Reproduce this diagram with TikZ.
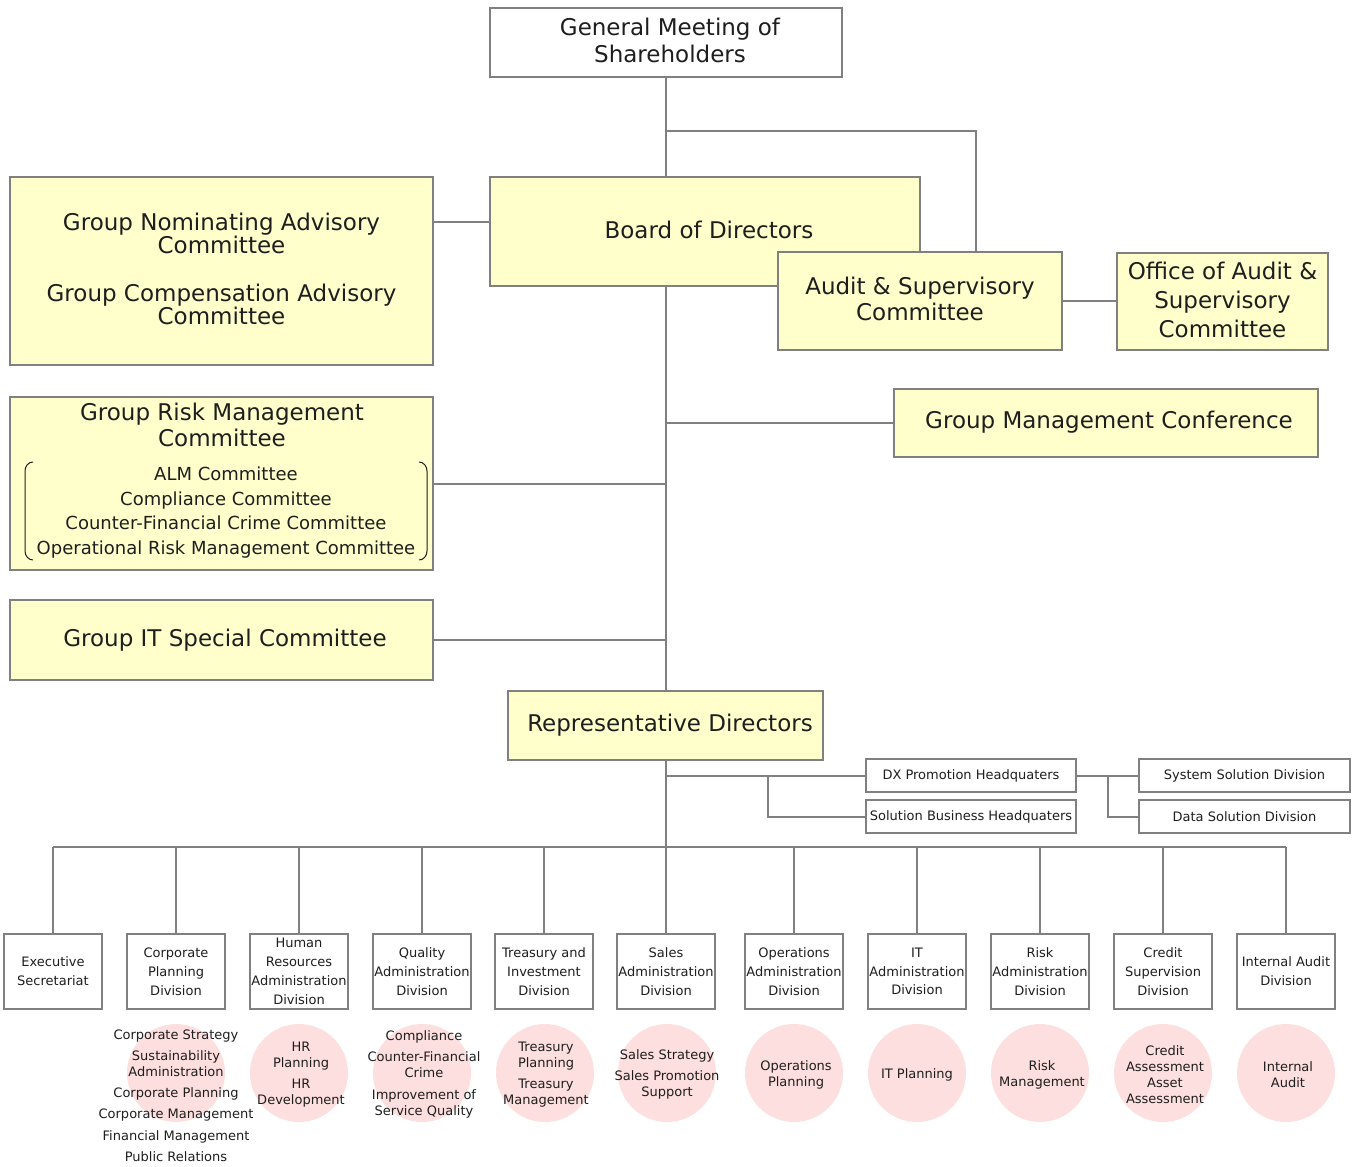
\documentclass[tikz,border=0pt]{standalone}
\usepackage{fontspec}
\setmainfont{DejaVu Sans}
\definecolor{lgray}{RGB}{128,128,128}
\definecolor{byel}{RGB}{255,255,204}
\definecolor{cpink}{RGB}{253,223,223}
\definecolor{txt}{RGB}{30,30,30}
\begin{document}
\begin{tikzpicture}[x=1pt,y=-1pt,
  base/.style={draw=lgray,line width=1.9pt,inner sep=0pt,align=center,text=txt},
  wbox/.style={base,fill=white,font=\fontsize{23}{27}\selectfont},
  ybox/.style={base,fill=byel,font=\fontsize{23}{26}\selectfont},
  sbox/.style={base,fill=white,font=\fontsize{13}{18.8}\selectfont,minimum width=98,minimum height=75},
  hbox/.style={base,fill=white,font=\fontsize{13}{16}\selectfont,minimum width=210,minimum height=33},
  pcirc/.style={circle,fill=cpink,draw=none,minimum size=98,inner sep=0pt},
  ctext/.style={inner sep=0pt,align=center,text=txt,font=\fontsize{13}{16}\selectfont},
  ltext/.style={inner sep=0pt,align=center,text=txt},
  conn/.style={draw=lgray,line width=2pt},
  brk/.style={draw=txt,line width=1pt}]
\useasboundingbox (0,0) rectangle (1360,1167);

% top boxes
\node[wbox,minimum width=352,minimum height=69] (gms) at (666,42.5) {};
\node[ltext,font=\fontsize{23}{27}\selectfont] (gmst) at (670,40) {General Meeting of\\Shareholders};
\node[ybox,minimum width=430,minimum height=109] (board) at (705,231.5) {};
\node[ltext,font=\fontsize{23}{26}\selectfont] (boardt) at (709,230) {Board of Directors};
\node[ybox,minimum width=284,minimum height=98] (audit) at (920,301) {};
\node[ltext,font=\fontsize{23}{26}\selectfont] (auditt) at (920,299) {Audit \& Supervisory\\Committee};
\node[ybox,minimum width=211,minimum height=97] (office) at (1222.5,301.5) {};
\node[ltext,font=\fontsize{23}{29}\selectfont] (officet) at (1222.5,300) {Office of Audit \&\\Supervisory\\Committee};

% left boxes
\node[ybox,minimum width=423,minimum height=188] (nom) at (221.5,271) {};
\node[ltext,font=\fontsize{23}{22}\selectfont] (nomt) at (221.5,269) {Group Nominating Advisory\\Committee\\[26pt]Group Compensation Advisory\\Committee};
\node[ybox,minimum width=423,minimum height=173] (risk) at (221.5,483.5) {};
\node[ltext,font=\fontsize{23}{26}\selectfont] (riskt) at (222,425) {Group Risk Management\\Committee};
\node[ltext,font=\fontsize{18}{24.4}\selectfont] (risks) at (226,512.5) {ALM Committee\\Compliance Committee\\Counter-Financial Crime Committee\\Operational Risk Management Committee};
\draw[brk] (33,462) to[out=180,in=90] (25,471) -- (25,551) to[out=-90,in=180] (33,560);
\draw[brk] (419,462) to[out=0,in=90] (427,471) -- (427,551) to[out=-90,in=0] (419,560);
\node[ybox,minimum width=423,minimum height=80] (itc) at (221.5,640) {};
\node[ltext,font=\fontsize{23}{26}\selectfont] (itct) at (225,640) {Group IT Special Committee};

\node[ybox,minimum width=424,minimum height=68] (gmc) at (1106,423) {};
\node[ltext,font=\fontsize{23}{26}\selectfont] (gmct) at (1109,422) {Group Management Conference};

\node[ybox,minimum width=315,minimum height=69] (rep) at (665.5,725.5) {};
\node[ltext,font=\fontsize{23}{26}\selectfont] (rept) at (670,725) {Representative Directors};

% headquarters
\node[hbox] (dx) at (971,775.5) {DX Promotion Headquaters};
\node[hbox] (sb) at (971,816.5) {Solution Business Headquaters};
\node[hbox,minimum width=211] (ss) at (1244.5,775.5) {System Solution Division};
\node[hbox,minimum width=211] (ds) at (1244.5,816.5) {Data Solution Division};

% connectors top
\draw[conn] (gms.south) -- (gms.south |- board.north);
\coordinate (j1) at (666,131);
\coordinate (j1e) at (976,131);
\draw[conn] (j1) -- (j1e) -- (j1e |- audit.north);
\draw[conn] (nom.east |- 0,222) -- (board.west |- 0,222);
\draw[conn] (audit.east) -- (audit.east -| office.west);
\draw[conn] (rep.north |- board.south) -- (rep.north);
\draw[conn] (rep.north |- gmc.west) -- (gmc.west);
\draw[conn] (risk.east) -- (risk.east -| rep.north);
\draw[conn] (itc.east) -- (itc.east -| rep.north);
\draw[conn] (rep.south) -- (rep.south |- 0,847);
\draw[conn] (rep.south |- dx.west) -- (dx.west);
\coordinate (j2) at (768,775.5);
\draw[conn] (j2) |- (sb.west);
\draw[conn] (dx.east) -- (ss.west);
\coordinate (j3) at (1108,775.5);
\draw[conn] (j3) |- (ds.west);

% divisions
\node[sbox] (d1) at (53,971.5) {Executive\\Secretariat};
\node[sbox] (d2) at (176,971.5) {Corporate\\Planning\\Division};
\node[sbox] (d3) at (299,971.5) {Human\\Resources\\Administration\\Division};
\node[sbox] (d4) at (422,971.5) {Quality\\Administration\\Division};
\node[sbox] (d5) at (544,971.5) {Treasury and\\Investment\\Division};
\node[sbox] (d6) at (666,971.5) {Sales\\Administration\\Division};
\node[sbox] (d7) at (794,971.5) {Operations\\Administration\\Division};
\node[sbox] (d8) at (917,971.5) {IT\\Administration\\Division};
\node[sbox] (d9) at (1040,971.5) {Risk\\Administration\\Division};
\node[sbox] (d10) at (1163,971.5) {Credit\\Supervision\\Division};
\node[sbox] (d11) at (1286,971.5) {Internal Audit\\Division};

\draw[conn] (d1.north |- 0,847) -- (d11.north |- 0,847);
\foreach \i in {1,...,11} {\draw[conn] (d\i.north |- 0,847) -- (d\i.north);}

% circles
\node[pcirc] (c2) at (176,1073) {};
\node[pcirc] (c3) at (299,1073) {};
\node[pcirc] (c4) at (422,1073) {};
\node[pcirc] (c5) at (545,1073) {};
\node[pcirc] (c6) at (667,1073) {};
\node[pcirc] (c7) at (794,1073) {};
\node[pcirc] (c8) at (917,1073) {};
\node[pcirc] (c9) at (1040,1073) {};
\node[pcirc] (c10) at (1163,1073) {};
\node[pcirc] (c11) at (1286,1073) {};

\node[ctext] (t2) at (176,1095.5) {Corporate Strategy\\[5.5pt]Sustainability\\Administration\\[5pt]Corporate Planning\\[5pt]Corporate Management\\[5.5pt]Financial Management\\[5pt]Public Relations};
\node[ctext] (t3) at (301,1074.5) {HR\\Planning\\[5pt]HR\\Development};
\node[ctext] (t4) at (424,1074.5) {Compliance\\[5pt]Counter-Financial\\Crime\\[6pt]Improvement of\\Service Quality};
\node[ctext] (t5) at (546,1074.5) {Treasury\\Planning\\[5pt]Treasury\\Management};
\node[ctext] (t6) at (667,1074.5) {Sales Strategy\\[5pt]Sales Promotion\\Support};
\node[ctext] (t7) at (796,1074.5) {Operations\\Planning};
\node[ctext] (t8) at (917,1074.5) {IT Planning};
\node[ctext] (t9) at (1042,1074.5) {Risk\\Management};
\node[ctext] (t10) at (1165,1074.5) {Credit\\Assessment\\Asset\\Assessment};
\node[ctext] (t11) at (1288,1074.5) {Internal\\Audit};
\end{tikzpicture}
\end{document}
